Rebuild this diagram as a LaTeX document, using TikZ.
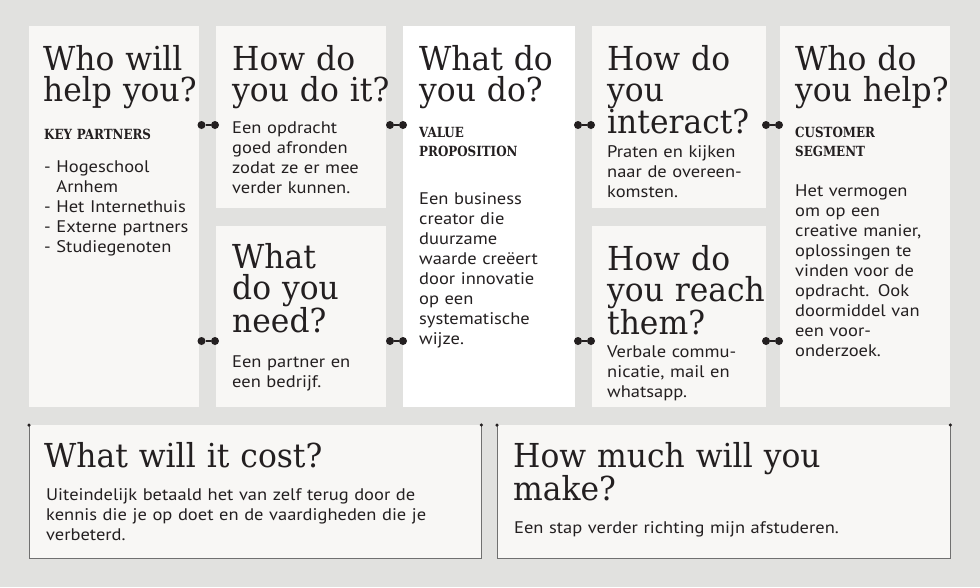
\documentclass[tikz,border=0pt]{standalone}
\usepackage{fontspec}
\setmainfont{PT Sans}[FakeStretch=1.1]
\newfontfamily\headfont{DejaVu Serif}[FakeStretch=0.95]
\newfontfamily\labfont{DejaVu Serif Bold}[FakeStretch=0.85]
\definecolor{bg}{HTML}{E1E1DF}
\definecolor{panel}{HTML}{F8F7F5}
\definecolor{ink}{HTML}{231F20}
\definecolor{edge}{HTML}{707070}
\tikzset{
  panel/.style={fill=panel, draw=none, inner sep=0, anchor=north west},
  whitepanel/.style={panel, fill=white},
  head/.style={anchor=base west, inner sep=0, align=left, text width=420pt, text=ink,
    font=\headfont\fontsize{33}{31}\selectfont},
  lab/.style={anchor=base west, inner sep=0, align=left, text width=200pt, text=ink,
    font=\labfont\fontsize{14}{19.5}\selectfont},
  body/.style={anchor=base west, inner sep=0, align=left, text width=420pt, text=ink,
    font=\fontsize{16.8}{20}\selectfont},
  dot/.style={circle, fill=ink, inner sep=0, minimum size=8pt},
  cdot/.style={circle, fill=ink, inner sep=0, minimum size=3.5pt},
  link/.style={draw=ink, line width=2pt},
  rim/.style={draw=edge, line width=0.9pt}
}
\begin{document}
\begin{tikzpicture}[x=1pt, y=-1pt]
\fill[bg] (0,0) rectangle (980,587);
\useasboundingbox (0,0) rectangle (980,587);
% panels
\node[panel, minimum width=170pt, minimum height=381pt] (kp) at (29,26) {};
\node[panel, minimum width=170pt, minimum height=182pt] (ka) at (216,26) {};
\node[panel, minimum width=170pt, minimum height=181pt] (kr) at (216,226) {};
\node[whitepanel, minimum width=172pt, minimum height=381pt] (vp) at (403,26) {};
\node[panel, minimum width=174pt, minimum height=182pt] (cr) at (592,26) {};
\node[panel, minimum width=174pt, minimum height=181pt] (ch) at (592,226) {};
\node[panel, minimum width=170pt, minimum height=381pt] (cs) at (780,26) {};
\node[panel, minimum width=452pt, minimum height=133pt] (cost) at (29,425) {};
\node[panel, minimum width=453pt, minimum height=133pt] (rev) at (497,425) {};
% bottom box rims
\draw[rim] (cost.north west) -- (cost.south west) -- (cost.south east) -- (cost.north east);
\draw[rim] (rev.north west) -- (rev.south west) -- (rev.south east) -- (rev.north east);
\node[cdot] at (cost.north west) {};
\node[cdot] at (cost.north east) {};
\node[cdot] at (rev.north west) {};
\node[cdot] at (rev.north east) {};
% Key partners
\node[head] at (43,70) {Who will\\help you?};
\node[lab] at (44,139) {KEY PARTNERS};
\node[body] at (44,172) {- Hogeschool\\\hphantom{- }Arnhem\\- Het Internethuis\\- Externe partners\\- Studiegenoten};
% Key activities
\node[head] at (232,70) {How do\\you do it?};
\node[body] at (232,133) {Een opdracht\\goed afronden\\zodat ze er mee\\verder kunnen.};
% Key resources
\node[head] at (232,268) {What\\do you\\need?};
\node[body] at (232,367) {Een partner en\\een bedrijf.};
% Value proposition
\node[head] at (419,70) {What do\\you do?};
\node[lab] at (419,137) {VALUE\\PROPOSITION};
\node[body] at (419,204) {Een business\\creator die\\duurzame\\waarde creëert\\door innovatie\\op een\\systematische\\wijze.};
% Customer relationships
\node[head] at (607,70) {How do\\you\\interact?};
\node[body] at (607,157) {Praten en kijken\\naar de overeen-\\komsten.};
% Channels
\node[head] at (607,270) {How do\\you reach\\them?};
\node[body] at (607,357) {Verbale commu-\\nicatie, mail en\\whatsapp.};
% Customer segment
\node[head] at (795,70) {Who do\\you help?};
\node[lab] at (795,137) {CUSTOMER\\SEGMENT};
\node[body] at (795,196) {Het vermogen\\om op een\\creative manier,\\oplossingen te\\vinden voor de\\opdracht. Ook\\doormiddel van\\een voor-\\onderzoek.};
% Cost
\node[head] at (44,467) {What will it cost?};
\node[body] at (46,500) {Uiteindelijk betaald het van zelf terug door de\\kennis die je op doet en de vaardigheden die je\\verbeterd.};
% Revenue
\node[head] at (513,467) {How much will you\\make?};
\node[body] at (514,533) {Een stap verder richting mijn afstuderen.};
% connectors
\node[dot] (a1) at (201.5,125) {}; \node[dot] (a2) at (215,125) {};
\node[dot] (b1) at (390,125) {}; \node[dot] (b2) at (403,125) {};
\node[dot] (c1) at (578,125) {}; \node[dot] (c2) at (591,125) {};
\node[dot] (d1) at (766,125) {}; \node[dot] (d2) at (779,125) {};
\node[dot] (e1) at (201.5,341) {}; \node[dot] (e2) at (215,341) {};
\node[dot] (f1) at (390,341) {}; \node[dot] (f2) at (403,341) {};
\node[dot] (g1) at (578,341) {}; \node[dot] (g2) at (591,341) {};
\node[dot] (h1) at (766,341) {}; \node[dot] (h2) at (779,341) {};
\draw[link] (a1) -- (a2);
\draw[link] (b1) -- (b2);
\draw[link] (c1) -- (c2);
\draw[link] (d1) -- (d2);
\draw[link] (e1) -- (e2);
\draw[link] (f1) -- (f2);
\draw[link] (g1) -- (g2);
\draw[link] (h1) -- (h2);
\end{tikzpicture}
\end{document}
